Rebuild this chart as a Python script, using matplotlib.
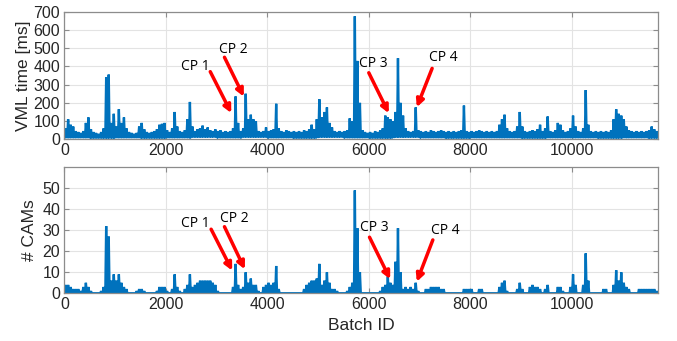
import numpy as np
import matplotlib
matplotlib.use("Agg")
import matplotlib.pyplot as plt

# ---------------- data (50-batch bins) ----------------
bin_width = 50
n_batches = 11700

# upper envelope of VML time [ms] per 50-batch bin (starting at batch 0)
vml_hi = [
    60, 110, 80, 70, 45, 40, 35, 45, 90, 120, 55, 40, 35, 30, 40, 60, 340, 355, 90, 140,
    70, 165, 90, 120, 60, 40, 35, 30, 35, 70, 90, 55, 40, 35, 40, 45, 55, 80, 85, 90,
    50, 40, 60, 150, 70, 45, 40, 50, 110, 205, 70, 45, 55, 60, 75, 55, 65, 50, 45, 55,
    45, 50, 40, 45, 40, 45, 60, 235, 90, 45, 60, 250, 110, 135, 110, 100, 45, 40, 45, 65,
    45, 50, 55, 195, 60, 45, 40, 50, 45, 40, 45, 40, 45, 40, 50, 45, 55, 80, 55, 110,
    220, 120, 150, 175, 90, 65, 45, 40, 45, 40, 45, 50, 115, 100, 675, 430, 200, 50, 40, 35,
    40, 35, 45, 40, 50, 60, 130, 120, 110, 100, 150, 445, 200, 130, 60, 45, 40, 45, 175, 50,
    45, 40, 45, 40, 50, 45, 40, 45, 50, 45, 40, 45, 40, 45, 40, 45, 50, 185, 45, 40,
    45, 40, 45, 50, 45, 40, 45, 40, 45, 40, 45, 80, 110, 135, 60, 45, 40, 45, 70, 150,
    70, 45, 40, 45, 50, 45, 55, 80, 45, 60, 125, 45, 40, 50, 90, 80, 50, 40, 45, 60,
    130, 70, 45, 40, 60, 270, 80, 45, 40, 45, 40, 45, 40, 45, 40, 50, 110, 165, 140, 130,
    110, 70, 50, 45, 40, 45, 40, 45, 40, 45, 50, 70, 55, 45,
]
# lower envelope of VML time [ms], one value per 500 batches
vml_floor = [12, 10, 12, 10, 12, 15, 12, 15, 12, 10, 15, 12,
             10, 15, 12, 10, 12, 12, 10, 12, 12, 10, 12, 10]

# upper envelope of number of CAMs per 50-batch bin
cam_hi = [
    4, 4, 3, 2, 2, 2, 1, 3, 5, 3, 1, 0, 0, 0, 1, 3, 32, 27, 6, 9,
    6, 9, 5, 3, 2, 0, 0, 0, 1, 2, 2, 1, 0, 0, 0, 0, 1, 3, 3, 3,
    1, 0, 2, 9, 3, 1, 0, 2, 4, 9, 3, 4, 5, 6, 6, 6, 6, 6, 5, 4,
    1, 0, 0, 0, 0, 0, 3, 14, 4, 2, 3, 10, 5, 7, 4, 4, 1, 0, 3, 4,
    5, 4, 5, 13, 2, 0, 0, 0, 0, 0, 0, 0, 0, 0, 2, 4, 5, 6, 6, 7,
    14, 4, 6, 10, 5, 2, 2, 1, 0, 0, 0, 1, 3, 5, 49, 31, 10, 0, 0, 0,
    0, 0, 0, 0, 1, 3, 4, 8, 5, 4, 15, 31, 10, 2, 3, 2, 3, 2, 5, 1,
    0, 0, 2, 2, 3, 3, 3, 3, 2, 2, 0, 0, 0, 0, 0, 0, 0, 2, 2, 2,
    2, 0, 0, 2, 2, 0, 0, 0, 0, 0, 0, 3, 5, 6, 1, 0, 0, 0, 2, 5,
    2, 0, 0, 3, 4, 3, 3, 2, 0, 2, 4, 0, 0, 0, 3, 3, 1, 0, 0, 3,
    9, 4, 0, 0, 4, 19, 6, 0, 0, 0, 0, 0, 2, 2, 0, 0, 4, 11, 6, 10,
    5, 3, 2, 0, 0, 0, 2, 2, 2, 2, 2, 2, 2, 1,
]

# change points: (label text position, arrow start, arrow tip) in data units
cp_labels = ["CP 1", "CP 2", "CP 3", "CP 4"]
cp_text_vml = [(2577, 402), (3333, 495), (6087, 417), (7476, 449)]
cp_start_vml = [(2876, 371), (3156, 450), (6000, 365), (7248, 389)]
cp_tip_vml = [(3290, 144), (3537, 234), (6394, 143), (6946, 176)]
cp_text_cam = [(2583, 33.3), (3357, 35.7), (6102, 31.1), (7513, 29.9)]
cp_start_cam = [(2893, 30.5), (3156, 31.7), (6014, 26.7), (7262, 25.4)]
cp_tip_cam = [(3308, 10.8), (3557, 11.4), (6421, 6.7), (6946, 5.5)]

x_ticks = [0, 2000, 4000, 6000, 8000, 10000]
vml_ticks = [0, 100, 200, 300, 400, 500, 600, 700]
cam_ticks = [0, 10, 20, 30, 40, 50]

# ---------------- drawing ----------------
BLUE = "#0072BD"
SPINE = "#8c8c8c"
TXT = "#262626"
AX_FONT = ["Liberation Sans", "DejaVu Sans"]
CP_FONT = ["Open Sans", "DejaVu Sans"]

nb = len(vml_hi)
starts = np.arange(nb) * bin_width
vml_lo = np.repeat(vml_floor, 10)[:nb]
cam_lo = np.zeros(nb)

fig = plt.figure(figsize=(6.77, 3.41), dpi=100)
ax1 = fig.add_axes([0.095, 0.5915, 0.877, 0.3742])
ax2 = fig.add_axes([0.095, 0.140, 0.877, 0.3694])


def style(ax, yticks, ylim):
    ax.set_xlim(0, n_batches)
    ax.set_ylim(*ylim)
    ax.set_xticks(x_ticks)
    ax.set_yticks(yticks)
    ax.grid(True, color="#e3e3e3", lw=0.8)
    ax.set_axisbelow(True)
    for s in ax.spines.values():
        s.set_color(SPINE)
        s.set_linewidth(0.9)
    ax.tick_params(direction="in", length=3.5, width=0.8, color=SPINE,
                   top=True, right=True, labelcolor=TXT, labelsize=11.5, pad=3)
    for lab in ax.get_xticklabels() + ax.get_yticklabels():
        lab.set_family(AX_FONT)


def draw_series(ax, lo, hi):
    # each bin drawn as a trace rising from its low to its high value
    xs = np.column_stack([starts + 8, starts + 25, starts + 42]).ravel()
    ys = np.column_stack([lo, hi, lo]).ravel()
    ax.plot(xs, ys, color=BLUE, lw=1.7, solid_joinstyle="miter")


# top panel
draw_series(ax1, vml_lo, np.asarray(vml_hi, float))
style(ax1, vml_ticks, (0, 700))
ax1.set_ylabel("VML time [ms]", fontsize=12.5, color=TXT, family=AX_FONT, labelpad=2)

# bottom panel
draw_series(ax2, cam_lo, np.asarray(cam_hi, float))
style(ax2, cam_ticks, (0, 60))
ax2.set_ylabel("# CAMs", fontsize=12.5, color=TXT, family=AX_FONT, labelpad=4)
ax2.set_xlabel("Batch ID", fontsize=12.5, color=TXT, family=AX_FONT, labelpad=4)

for ax, tp, sp, tip in [(ax1, cp_text_vml, cp_start_vml, cp_tip_vml),
                        (ax2, cp_text_cam, cp_start_cam, cp_tip_cam)]:
    for lab, t, s, e in zip(cp_labels, tp, sp, tip):
        ax.text(t[0], t[1], lab, ha="center", va="center", fontsize=10,
                family=CP_FONT, color="black")
        ax.annotate("", xy=e, xytext=s,
                    arrowprops=dict(arrowstyle="-|>", color="red", lw=2.5,
                                    mutation_scale=11, shrinkA=0, shrinkB=0))

fig.savefig("out.png", dpi=100)
